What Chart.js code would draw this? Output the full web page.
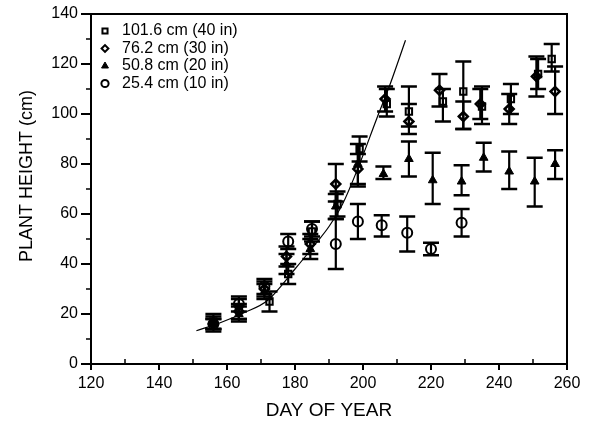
<!DOCTYPE html>
<html><head><meta charset="utf-8">
<script src="https://cdn.jsdelivr.net/npm/chart.js@4/dist/chart.umd.min.js"></script>
<style>html,body{margin:0;padding:0;background:#fff}#wrap{width:606px;height:430px}</style>
</head><body><div id="wrap"><canvas id="c" width="606" height="430"></canvas></div>
<script>
// x-axis / y-axis tick labels
const xTicks = [120, 140, 160, 180, 200, 220, 240, 260];
const yTicks = [0, 20, 40, 60, 80, 100, 120, 140];
const seriesLabels = ['101.6 cm (40 in)', '76.2 cm (30 in)', '50.8 cm (20 in)', '25.4 cm (10 in)'];

// 101.6 cm (40 in) - squares
const sqDays = [156, 163.5, 172.5, 178, 185, 192.5, 199, 207, 213.5, 223.5, 229.5, 235, 243.5, 251.5, 255.5];
const sqVals = [17, 22, 25, 36, 53, 64, 86, 104, 101, 105, 109, 103, 106, 116, 122];
const sqLo   = [14, 18, 21, 32, 49, 59, 81, 99, 95, 97, 94, 96, 100, 110, 117];
const sqHi   = [20, 26, 29, 40, 57, 69, 91, 110, 111, 110, 121, 111, 112, 122, 128];

// 76.2 cm (30 in) - diamonds
const diDays = [156, 163.5, 171, 177.5, 184.5, 192, 198.5, 206.5, 213.5, 222.5, 229.5, 234.5, 243, 251, 256.5];
const diVals = [16, 21, 30, 43, 48, 72, 78, 106, 97, 109.5, 99, 104, 102, 115, 109];
const diLo   = [14, 18, 27, 39, 44, 65, 72, 101, 92, 103, 94, 98, 96, 107, 100];
const diHi   = [18, 24, 33, 47, 52, 80, 84, 111, 104, 116, 105, 110, 108, 123, 119];

// 50.8 cm (20 in) - triangles
const trDays = [156, 163.5, 171, 177.5, 184.5, 192, 198.5, 206, 213.5, 220.5, 229, 235.5, 243, 250.5, 256.5];
const trVals = [16, 20, 29, 40, 46, 63, 80, 76, 82, 73.5, 73, 82.5, 77, 73, 80];
const trLo   = [14, 17, 26, 36, 42, 58, 71, 74, 75, 64, 67.5, 77, 70, 63, 74];
const trHi   = [18, 23, 32, 44, 50, 68, 88, 79, 89, 84.5, 79.5, 88.5, 85, 82.5, 85.5];

// 25.4 cm (10 in) - circles
const ciDays = [156, 163.5, 171, 178, 185, 192, 198.5, 205.5, 213, 220, 229];
const ciVals = [16, 24, 31, 49, 54, 48, 57, 55.5, 52.5, 46, 56.5];
const ciLo   = [13, 21, 28, 46, 51, 38, 50, 51, 45, 43.5, 51];
const ciHi   = [19, 27, 34, 52, 57, 58, 64, 59.5, 59, 48.5, 62];

// fitted curve
const fitDays = [151, 158, 165, 172, 180, 186, 190, 194, 199, 204, 208, 212.5];
const fitVals = [13.3, 16.5, 20.5, 25.5, 38, 48, 55, 64, 80, 98, 112, 129.5];

const FONT = "'Liberation Sans', Arial, sans-serif";
const pts = (xs, ys) => xs.map((x, i) => ({x: x, y: ys[i]}));

const series = [
  {label: seriesLabels[0], data: pts(sqDays, sqVals), lo: sqLo, hi: sqHi, pointStyle: 'rect', pointRadius: 4.5, pointBackgroundColor: 'rgba(0,0,0,0)', pointBorderWidth: 2, legR: 3.6},
  {label: seriesLabels[1], data: pts(diDays, diVals), lo: diLo, hi: diHi, pointStyle: 'rectRot', pointRadius: 4.5, pointBackgroundColor: 'rgba(0,0,0,0)', pointBorderWidth: 2.5, legR: 3.4},
  {label: seriesLabels[2], data: pts(trDays, trVals), lo: trLo, hi: trHi, pointStyle: 'triangle', pointRadius: 5, pointBackgroundColor: '#000', pointBorderWidth: 1, legR: 4},
  {label: seriesLabels[3], data: pts(ciDays, ciVals), lo: ciLo, hi: ciHi, pointStyle: 'circle', pointRadius: 5, pointBackgroundColor: 'rgba(0,0,0,0)', pointBorderWidth: 2, legR: 3.6}
];

const datasets = series.map(s => ({
  type: 'scatter', label: s.label, data: s.data, showLine: false,
  pointStyle: s.pointStyle, pointRadius: s.pointRadius, pointHoverRadius: s.pointRadius,
  pointBackgroundColor: s.pointBackgroundColor, pointBorderColor: '#000', pointBorderWidth: s.pointBorderWidth,
  errLo: s.lo, errHi: s.hi, legR: s.legR
}));
datasets.push({
  type: 'line', label: 'fit', data: pts(fitDays, fitVals), borderColor: '#000', borderWidth: 1.2,
  pointRadius: 0, fill: false, cubicInterpolationMode: 'monotone'
});

const errPlugin = {
  id: 'err',
  beforeDatasetsDraw(chart) {
    const ctx = chart.ctx, xs = chart.scales.x, ys = chart.scales.y;
    ctx.save();
    ctx.strokeStyle = '#000';
    ctx.lineCap = 'butt';
    chart.data.datasets.forEach(ds => {
      if (!ds.errLo) return;
      ds.data.forEach((p, i) => {
        const px = xs.getPixelForValue(p.x);
        const yl = ys.getPixelForValue(ds.errLo[i]);
        const yh = ys.getPixelForValue(ds.errHi[i]);
        ctx.lineWidth = 2.2;
        ctx.beginPath(); ctx.moveTo(px, yl); ctx.lineTo(px, yh); ctx.stroke();
        ctx.lineWidth = 2.5;
        ctx.beginPath();
        ctx.moveTo(px - 8, yl); ctx.lineTo(px + 8, yl);
        ctx.moveTo(px - 8, yh); ctx.lineTo(px + 8, yh);
        ctx.stroke();
      });
    });
    ctx.restore();
  }
};

const framePlugin = {
  id: 'frame',
  afterDraw(chart) {
    const ctx = chart.ctx, a = chart.chartArea, xs = chart.scales.x, ys = chart.scales.y;
    ctx.save();
    ctx.strokeStyle = '#000';
    ctx.lineWidth = 2;
    ctx.strokeRect(a.left, a.top, a.right - a.left, a.bottom - a.top);
    // minor ticks
    ctx.lineWidth = 1.5;
    ctx.beginPath();
    for (let v = 10; v < 140; v += 20) {
      const y = ys.getPixelForValue(v);
      ctx.moveTo(a.left - 5, y); ctx.lineTo(a.left, y);
    }
    for (let d = 130; d < 260; d += 20) {
      const x = xs.getPixelForValue(d);
      ctx.moveTo(x, a.bottom); ctx.lineTo(x, a.bottom - 5);
    }
    ctx.stroke();
    // axis titles
    ctx.fillStyle = '#000';
    ctx.font = '19px ' + FONT;
    ctx.textAlign = 'center'; ctx.textBaseline = 'middle';
    ctx.fillText('DAY OF YEAR', (a.left + a.right) / 2, 411);
    ctx.font = '18px ' + FONT;
    ctx.translate(27, 176);
    ctx.rotate(-Math.PI / 2);
    ctx.fillText('PLANT HEIGHT (cm)', 0, 0);
    ctx.restore();
    // legend
    ctx.save();
    ctx.font = '16px ' + FONT;
    ctx.textAlign = 'left'; ctx.textBaseline = 'middle';
    const rows = [31, 48.5, 66, 83.5];
    chart.data.datasets.forEach((ds, i) => {
      if (!ds.errLo) return;
      ctx.strokeStyle = '#000';
      ctx.fillStyle = ds.pointBackgroundColor;
      ctx.lineWidth = Math.min(ds.pointBorderWidth, 2);
      Chart.helpers.drawPoint(ctx, {pointStyle: ds.pointStyle, radius: ds.legR, borderWidth: ctx.lineWidth, rotation: 0}, 105, rows[i]);
      ctx.fillStyle = '#000';
      ctx.fillText(ds.label, 122, rows[i]);
    });
    ctx.restore();
  }
};

new Chart(document.getElementById('c'), {
  type: 'scatter',
  data: {datasets: datasets},
  plugins: [errPlugin, framePlugin],
  options: {
    responsive: false, animation: false,
    layout: {padding: {top: 14, right: 39, left: 0, bottom: 0}},
    plugins: {legend: {display: false}, tooltip: {enabled: false}},
    scales: {
      x: {
        type: 'linear', min: 120, max: 260,
        afterFit(s) { s.height = 66; },
        afterBuildTicks(s) { s.ticks = xTicks.map(v => ({value: v})); },
        grid: {drawOnChartArea: false, drawTicks: true, tickLength: 6, color: '#000', lineWidth: 2},
        border: {display: true, color: '#000', width: 2},
        ticks: {color: '#000', font: {size: 16, family: FONT}, padding: 4, maxRotation: 0}
      },
      y: {
        type: 'linear', min: 0, max: 140,
        afterFit(s) { s.width = 91; },
        afterBuildTicks(s) { s.ticks = yTicks.map(v => ({value: v})); },
        grid: {drawOnChartArea: false, drawTicks: true, tickLength: 10, color: '#000', lineWidth: 2},
        border: {display: true, color: '#000', width: 2},
        ticks: {color: '#000', font: {size: 16, family: FONT}, padding: 3}
      }
    }
  }
});
</script></body></html>
